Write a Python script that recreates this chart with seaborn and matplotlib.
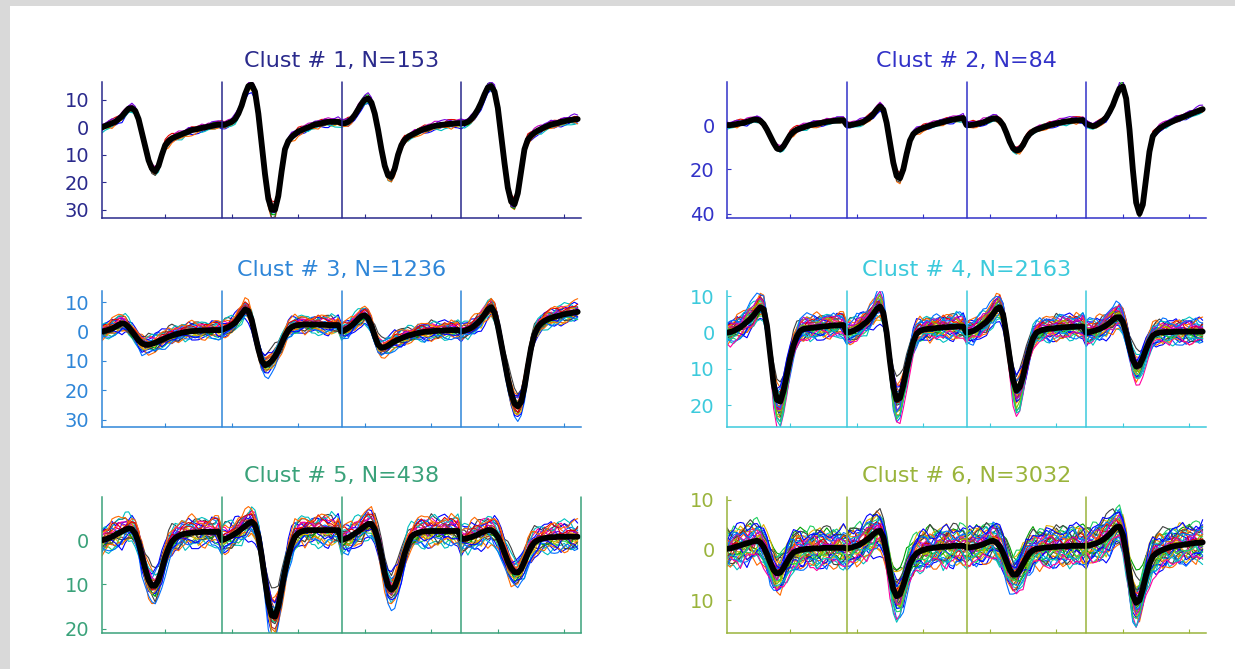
import numpy as np
import pandas as pd
import matplotlib
matplotlib.use("Agg")
import matplotlib.pyplot as plt
import seaborn as sns
from matplotlib.patches import Rectangle

# ---- mean waveforms: 6 clusters x 4 channels x 36 samples ----
clust1_mean = [
    [0, 0.5, 1, 1.5, 2, 3, 4, 5.5, 6.8, 7, 6, 3, -2, -7, -12, -15, -16, -14, -10, -6.5, -5, -4, -3.5, -3, -2.5, -2, -1.5, -1, -0.8, -0.5, -0.2, 0, 0.3, 0.5, 0.8, 1],
    [1, 1, 1.5, 2, 3, 5, 8, 12, 15, 15.5, 13, 5, -6, -17, -26, -30, -30, -25, -16, -8, -5, -3.5, -2.5, -1.5, -1, -0.5, 0, 0.5, 1, 1.2, 1.5, 1.8, 2, 2, 2, 2],
    [1.5, 1.5, 2, 3, 4.5, 6.5, 8.5, 10, 10.5, 9, 5, -1, -8, -14, -17.5, -18, -15, -10, -6.5, -4.5, -3.5, -2.8, -2.2, -1.6, -1, -0.6, -0.2, 0.2, 0.5, 0.7, 0.9, 1, 1.2, 1.3, 1.4, 1.5],
    [1.5, 1.5, 2, 3, 4.5, 6.5, 9, 12, 14.5, 15, 13, 7, -3, -13, -22, -27, -28, -24, -16, -8, -4.5, -3, -2, -1.2, -0.6, 0, 0.5, 1, 1.3, 1.6, 2, 2.2, 2.5, 2.7, 2.9, 3],
]
clust2_mean = [
    [0, 0, 0.2, 0.5, 0.8, 1, 1.5, 2, 2.5, 2.5, 2, 0.5, -2, -5, -8, -10.5, -11, -9.5, -7, -4.5, -3, -2, -1.5, -1, -0.5, 0, 0.3, 0.6, 0.9, 1.2, 1.5, 1.7, 1.9, 2, 2.1, 2.2],
    [0, 0, 0.3, 0.6, 1, 1.5, 2.5, 3.5, 5, 7, 8.5, 7, 1, -8, -17, -23, -24, -20, -13, -7, -4, -2.8, -2, -1.3, -0.8, -0.3, 0.2, 0.6, 1, 1.4, 1.8, 2.2, 2.5, 2.8, 3, 3.2],
    [0, 0, 0.2, 0.5, 0.8, 1.2, 1.8, 2.5, 3, 3, 2, 0, -3.5, -7.5, -10.5, -11.5, -11, -9, -6, -4, -2.8, -2, -1.5, -1, -0.5, 0, 0.4, 0.8, 1.1, 1.4, 1.6, 1.8, 2, 2.1, 2.2, 2.3],
    [0.5, 0, -0.5, 0, 1, 2, 3.5, 6, 9, 13, 16.5, 17.5, 12, -2, -20, -35, -40, -36, -24, -12, -5, -3, -1.5, -0.5, 0.3, 1, 1.7, 2.4, 3, 3.6, 4.2, 4.8, 5.4, 6, 6.6, 7.2],
]
clust3_mean = [
    [0, 0.3, 0.6, 1, 1.6, 2.3, 2.8, 2.5, 1.5, 0, -1.5, -3, -4, -4.5, -4.5, -4.2, -3.8, -3.3, -2.8, -2.3, -1.8, -1.4, -1, -0.7, -0.4, -0.2, 0, 0.1, 0.2, 0.3, 0.3, 0.4, 0.4, 0.5, 0.5, 0.5],
    [0.5, 1, 1.5, 2.2, 3, 4.5, 6, 7.5, 7, 4, -1, -6, -10, -11.5, -11, -10, -8.5, -6.5, -4, -1.5, 0.5, 1.5, 2, 2.2, 2.3, 2.4, 2.4, 2.4, 2.4, 2.4, 2.3, 2.3, 2.2, 2.2, 2.2, 2.2],
    [0, 0.5, 1.2, 2, 3, 4.2, 5.2, 5.5, 4.5, 2, -1.5, -4.5, -5.5, -5.3, -4.8, -4, -3.3, -2.8, -2.3, -1.8, -1.4, -1.1, -0.8, -0.5, -0.3, -0.1, 0, 0.1, 0.2, 0.3, 0.3, 0.4, 0.4, 0.5, 0.5, 0.5],
    [0, 0.3, 0.7, 1.2, 2, 3, 4.2, 5.8, 7.5, 8.3, 6.5, 2, -4, -10, -16, -21, -24.5, -25.5, -24, -19, -12, -5.5, -1, 1.5, 2.8, 3.6, 4.2, 4.6, 5, 5.3, 5.6, 5.9, 6.1, 6.3, 6.5, 6.7],
]
clust4_mean = [
    [0, 0.2, 0.5, 1, 1.5, 2.2, 3, 3.8, 4.8, 6, 7, 6.5, 2, -6, -14, -18.5, -19, -16, -11.5, -7, -3.5, -1, 0.5, 1, 1.2, 1.3, 1.4, 1.5, 1.6, 1.7, 1.8, 1.9, 2, 2, 2.1, 2.1],
    [0, 0.2, 0.5, 1, 1.6, 2.3, 3, 4, 5.2, 6.5, 7.2, 5.5, 0, -8, -15, -18.5, -18, -14.5, -10, -6, -2.5, -0.3, 0.5, 0.8, 1, 1.1, 1.2, 1.3, 1.4, 1.5, 1.5, 1.6, 1.6, 1.7, 1.7, 1.7],
    [0, 0.2, 0.5, 1, 1.6, 2.3, 3, 4, 5.2, 6.5, 7, 5, -0.5, -7, -13, -16, -15, -12, -8, -4.5, -1.5, 0, 0.5, 0.8, 1, 1.1, 1.2, 1.3, 1.4, 1.5, 1.5, 1.6, 1.6, 1.7, 1.7, 1.7],
    [0, 0.2, 0.4, 0.7, 1, 1.5, 2, 2.7, 3.5, 4.2, 4.3, 3, 0, -4, -7.5, -9.3, -9, -7, -4.5, -2.3, -0.8, -0.2, 0, 0.1, 0.2, 0.2, 0.2, 0.3, 0.3, 0.3, 0.3, 0.3, 0.3, 0.3, 0.3, 0.3],
]
clust5_mean = [
    [0, 0.2, 0.5, 0.8, 1.2, 1.6, 2, 2.4, 2.7, 2.5, 1.5, -0.5, -3.5, -6.5, -9, -10.3, -10.3, -9, -6.5, -3.8, -1.8, -0.3, 0.5, 1, 1.3, 1.5, 1.6, 1.7, 1.8, 1.8, 1.9, 1.9, 1.9, 1.9, 1.9, 1.9],
    [0, 0.3, 0.6, 1, 1.5, 2, 2.6, 3.2, 3.8, 4.2, 3.5, 1, -3.5, -9, -14, -17, -17.3, -15, -11, -7, -3.5, -1, 0.8, 1.6, 2, 2.2, 2.3, 2.3, 2.3, 2.3, 2.3, 2.3, 2.3, 2.3, 2.3, 2.3],
    [0, 0.3, 0.6, 1, 1.5, 2, 2.6, 3.2, 3.7, 3.7, 2.5, 0, -3.5, -7.5, -10.3, -11.2, -10.5, -8.5, -5.8, -3, -0.8, 0.8, 1.4, 1.7, 1.9, 2, 2, 2.1, 2.1, 2.1, 2.1, 2.1, 2.1, 2.1, 2.1, 2.1],
    [0.3, 0.3, 0.5, 0.7, 1, 1.3, 1.7, 2, 2.3, 2.3, 1.8, 0.8, -0.8, -2.8, -4.8, -6.3, -7.2, -7.3, -6.5, -4.8, -3, -1.5, -0.5, 0, 0.3, 0.5, 0.6, 0.7, 0.7, 0.8, 0.8, 0.8, 0.8, 0.8, 0.8, 0.8],
]
clust6_mean = [
    [0.2, 0.3, 0.5, 0.7, 0.9, 1.1, 1.3, 1.5, 1.7, 1.8, 1.5, 0.6, -0.8, -2.5, -4, -4.7, -4.5, -3.6, -2.4, -1.3, -0.5, -0.2, 0, 0.1, 0.2, 0.2, 0.3, 0.3, 0.3, 0.4, 0.4, 0.4, 0.4, 0.4, 0.4, 0.4],
    [0.3, 0.4, 0.6, 0.8, 1.1, 1.5, 2, 2.5, 3.1, 3.6, 3.8, 2.5, -0.5, -4.5, -7.8, -9.2, -8.8, -7, -4.8, -2.8, -1.5, -0.7, -0.3, 0, 0.2, 0.3, 0.4, 0.5, 0.6, 0.6, 0.7, 0.7, 0.8, 0.8, 0.8, 0.8],
    [0.5, 0.5, 0.6, 0.7, 0.9, 1.1, 1.4, 1.7, 1.8, 1.5, 0.7, -0.6, -2.3, -3.9, -4.9, -4.9, -4, -2.8, -1.6, -0.6, -0.1, 0.2, 0.3, 0.4, 0.5, 0.5, 0.6, 0.6, 0.7, 0.7, 0.7, 0.8, 0.8, 0.8, 0.8, 0.8],
    [0.8, 0.9, 1.1, 1.3, 1.6, 2, 2.5, 3.1, 3.8, 4.5, 4.6, 3, -0.5, -5, -9, -10.5, -10, -7.8, -5, -2.8, -1.3, -0.7, -0.3, 0, 0.3, 0.5, 0.7, 0.8, 0.9, 1, 1.1, 1.2, 1.3, 1.4, 1.4, 1.5],
]
cluster_means = [clust1_mean, clust2_mean, clust3_mean, clust4_mean, clust5_mean, clust6_mean]

cluster_ids = [1, 2, 3, 4, 5, 6]
cluster_sizes = [153, 84, 1236, 2163, 438, 3032]
cluster_colors = ["#2a2a8c", "#3232c8", "#2f86d8", "#3ccadc", "#3aa27a", "#9ab43c"]

# spread of individual spikes around each cluster mean
trace_gains = [
    [0.94, 1.0, 1.06],
    [0.95, 1.0, 1.05],
    [0.88, 0.96, 1.04, 1.12],
    [0.85, 0.95, 1.05, 1.15, 1.25],
    [0.85, 0.95, 1.05, 1.15],
    [0.8, 0.9, 1.0, 1.1, 1.2],
]
trace_offsets = [
    [-1.2, -0.5, 0.2, 0.9],
    [-1.0, -0.3, 0.4, 1.1],
    [-2.2, -1.3, -0.4, 0.5, 1.4, 2.3],
    [-2.5, -1.5, -0.5, 0.5, 1.5, 2.5],
    [-2.5, -1.5, -0.5, 0.5, 1.5, 2.5],
    [-3.0, -2.0, -1.0, 0.0, 1.0, 2.0, 3.0],
]
noise_level = [0.9, 0.9, 1.4, 1.5, 1.5, 1.6]
wiggle_a = [0.2, 0.6, 0.9, 0.5, -0.1, -0.6, -0.8, -0.4, 0.1, 0.7, 1.0, 0.6, 0.0, -0.5, -1.0, -0.7,
            -0.2, 0.3, 0.5, 0.2, -0.3, -0.9, -0.6, 0.1, 0.8, 0.9, 0.4, -0.2, -0.7, -0.4, 0.0]
wiggle_b = [0.5, -0.4, 0.8, -0.6, 0.1, 0.9, -0.9, 0.3, -0.2, 0.6, -0.7, 0.4, -0.5, 0.7, -0.1, -0.8, 0.2]

# axis limits and tick labels
y_limits = [(-33, 16.5), (-42, 19.5), (-32.5, 13.8), (-26, 11.5), (-21, 9.8), (-16.5, 10.5)]
y_ticks = [[10, 0, -10, -20, -30], [0, -20, -40], [10, 0, -10, -20, -30],
           [10, 0, -10, -20], [0, -10, -20], [10, 0, -10]]
y_ticklabels = [["10", "0", "10", "20", "30"], ["0", "20", "40"], ["10", "0", "10", "20", "30"],
                ["10", "0", "10", "20"], ["0", "10", "20"], ["10", "0", "10"]]
x_ticks = [20, 40, 60, 80, 100, 120, 140]
channel_edges = [37, 73, 109]

trace_palette = ["#0000ff", "#e00000", "#00a000", "#00c0c0", "#c000c0", "#e0b000",
                 "#ff6a00", "#7000e0", "#20d060", "#0070ff", "#b03030", "#404040",
                 "#ff00a0", "#80c000"]

sns.set_style("white")
plt.rcParams["font.family"] = ["DejaVu Sans"]

fig = plt.figure(figsize=(12.35, 6.69), dpi=100)
fig.patch.set_facecolor("white")
fig.patches.append(Rectangle((0, 1 - 6 / 669), 1, 6 / 669, transform=fig.transFigure,
                             facecolor="#d9d9d9", edgecolor="none", zorder=-5))
fig.patches.append(Rectangle((0, 0), 10 / 1235, 1, transform=fig.transFigure,
                             facecolor="#d9d9d9", edgecolor="none", zorder=-5))

col_left = [102 / 1235, 727 / 1235]
row_bottom = [(669 - 218) / 669, (669 - 427) / 669, (669 - 633) / 669]
ax_w, ax_h = 479 / 1235, 136 / 669

x = np.arange(1, 145)
wa_arr = np.array(wiggle_a)
wb_arr = np.array(wiggle_b)
for k in range(6):
    color = cluster_colors[k]
    ax = fig.add_axes([col_left[k % 2], row_bottom[k // 2], ax_w, ax_h])
    mean = np.concatenate([np.asarray(ch, dtype=float) for ch in cluster_means[k]])
    assert mean.size == 144

    rows = []
    pal = {}
    t = 0
    idx = np.arange(144)
    for gi, g in enumerate(trace_gains[k]):
        for oi, o in enumerate(trace_offsets[k]):
            wa = wa_arr[(idx + 7 * t) % len(wa_arr)]
            wb = wb_arr[(2 * idx + 5 * t + 3) % len(wb_arr)]
            v = mean * g + o + noise_level[k] * (0.75 * wa + 0.45 * wb)
            name = f"t{t}"
            rows.append(pd.DataFrame({"x": x, "v": v, "trace": name}))
            pal[name] = trace_palette[(3 * gi + 5 * oi) % len(trace_palette)]
            t += 1
    df = pd.concat(rows, ignore_index=True)
    sns.lineplot(data=df, x="x", y="v", hue="trace", units="trace", estimator=None,
                 palette=pal, legend=False, lw=0.8, ax=ax, zorder=2)
    sns.lineplot(x=x, y=mean, color="black", lw=4.2, ax=ax, zorder=3)

    edges = channel_edges + ([145] if k == 4 else [])
    for e in edges:
        ax.axvline(e, color=color, lw=1.1, zorder=4, clip_on=False)

    ax.set_xlim(1, 145)
    ax.set_ylim(*y_limits[k])
    ax.set_xticks(x_ticks)
    ax.set_xticklabels([])
    ax.set_yticks(y_ticks[k])
    ax.set_yticklabels(y_ticklabels[k])
    ax.set_xlabel("")
    ax.set_ylabel("")
    ax.tick_params(axis="both", direction="in", length=3, width=0.8, colors=color,
                   labelsize=14, left=True, bottom=True, pad=9)
    for side in ["top", "right"]:
        ax.spines[side].set_visible(False)
    for side in ["left", "bottom"]:
        ax.spines[side].set_color(color)
        ax.spines[side].set_linewidth(1.1)
    ax.set_facecolor("white")
    ax.set_title(f"Clust # {cluster_ids[k]}, N={cluster_sizes[k]}", color=color,
                 fontsize=16, pad=11)

fig.savefig("out.png", dpi=100)
